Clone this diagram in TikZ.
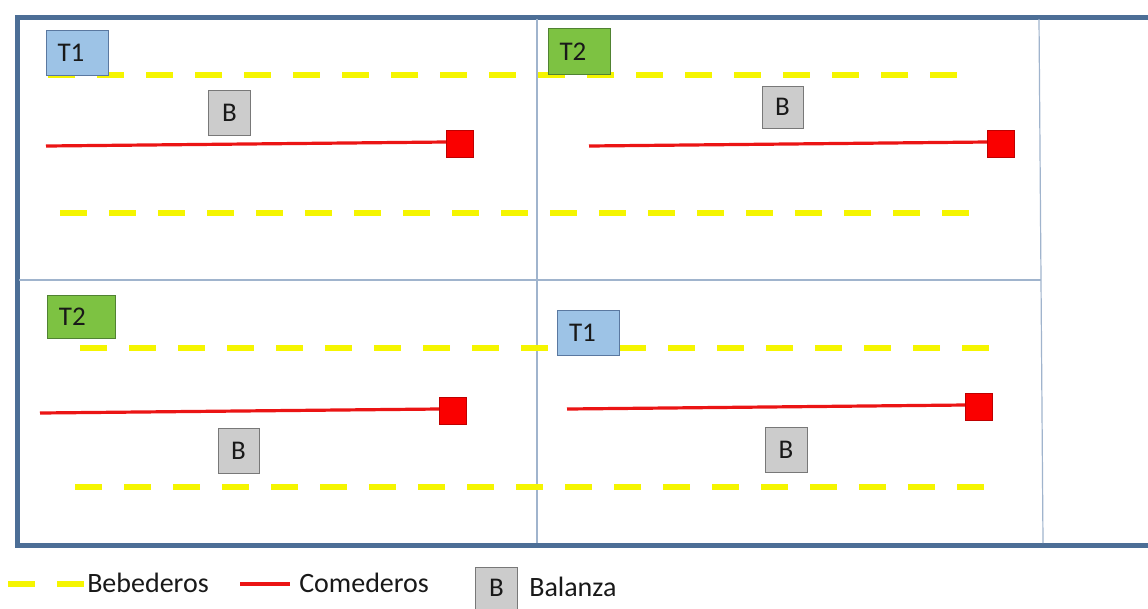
\documentclass[tikz,border=0pt]{standalone}
\usepackage{fontspec}
\setmainfont{Carlito}
\definecolor{framecol}{RGB}{76,110,150}
\definecolor{divcol}{RGB}{160,180,205}
\definecolor{tonefill}{RGB}{157,195,230}
\definecolor{toneline}{RGB}{90,120,160}
\definecolor{ttwofill}{RGB}{125,194,66}
\definecolor{ttwoline}{RGB}{80,130,50}
\definecolor{bfill}{RGB}{204,204,204}
\definecolor{bline}{RGB}{120,120,120}
\definecolor{waterc}{RGB}{245,245,0}
\definecolor{feedc}{RGB}{235,20,20}
\definecolor{feedsq}{RGB}{250,0,0}
\definecolor{feedsqline}{RGB}{190,0,0}
\begin{document}
\begin{tikzpicture}[x=0.75pt,y=-0.75pt,
  frameline/.style={draw=framecol,line width=3.75pt},
  divider/.style={draw=divcol,line width=0.9pt},
  boxlabel/.style={font=\fontsize{20.25}{22}\selectfont,inner sep=0pt,text=black!90},
  tonebox/.style={boxlabel,draw=toneline,fill=tonefill,line width=0.75pt,minimum width=46.5pt,minimum height=33.75pt},
  ttwobox/.style={boxlabel,draw=ttwoline,fill=ttwofill,line width=0.75pt,minimum width=46.5pt,minimum height=33.75pt},
  balbox/.style={boxlabel,draw=bline,fill=bfill,line width=0.75pt,minimum width=31.5pt,minimum height=33pt},
  water/.style={draw=waterc,line width=4.5pt,dash pattern=on 20.25pt off 16.5pt},
  feedline/.style={draw=feedc,line width=2.4pt},
  feeder/.style={draw=feedsqline,fill=feedsq,line width=0.5pt,minimum width=20.5pt,minimum height=20.5pt,inner sep=0pt},
  legtext/.style={font=\fontsize{21}{24}\selectfont,inner sep=0pt,anchor=west,text=black!90}
]
\useasboundingbox (0,0) rectangle (1148,608);
\fill[white] (0,0) rectangle (1148,608);
\begin{scope}
\clip (0,0) rectangle (1148,608);
\draw[frameline] (1160,17) -- (17,17) -- (17,545) -- (1160,545);
\end{scope}
\draw[divider] (537,19) -- (537,543);
\draw[divider] (1039,19) -- (1043,543);
\draw[divider] (19,280) -- (1041,280);

% waterers (bebederos)
\coordinate (w1a) at (48,75);  \coordinate (w1b) at (958,75);
\coordinate (w2a) at (60,213); \coordinate (w2b) at (970,213);
\coordinate (w3a) at (80,348); \coordinate (w3b) at (990,348);
\coordinate (w4a) at (75,487); \coordinate (w4b) at (985,487);
\draw[water] (w1a) -- (w1b);
\draw[water] (w2a) -- (w2b);
\draw[water] (w3a) -- (w3b);
\draw[water] (w4a) -- (w4b);

% feeders (comederos)
\node[feeder] (f1) at (460,144) {};
\node[feeder] (f2) at (1001,144) {};
\node[feeder] (f3) at (453,411) {};
\node[feeder] (f4) at (979,407) {};
\coordinate (c1) at (46,146);
\coordinate (c2) at (589,146);
\coordinate (c3) at (40,413);
\coordinate (c4) at (567,409);
\draw[feedline] (c1) -- ([yshift=1.5pt]f1.west);
\draw[feedline] (c2) -- ([yshift=1.5pt]f2.west);
\draw[feedline] (c3) -- ([yshift=1.5pt]f3.west);
\draw[feedline] (c4) -- ([yshift=1.5pt]f4.west);

% treatment labels
\node[tonebox] (t1a) at (77,53) {\hspace*{-9pt}T1};
\node[ttwobox,minimum height=35pt] (t2a) at (579,51.5) {\hspace*{-9pt}T2};
\node[ttwobox,minimum width=51pt,minimum height=32.25pt] (t2b) at (81,316.5) {\hspace*{-13pt}T2};
\node[tonebox] (t1b) at (588.5,332.5) {\hspace*{-9pt}T1};

% balances
\node[balbox,minimum height=33.75pt] (b1) at (229.5,112.5) {B};
\node[balbox,minimum width=30.75pt,minimum height=31.5pt] (b2) at (782.5,107) {B};
\node[balbox,minimum width=30.75pt,minimum height=33.75pt] (b3) at (238.5,450.5) {B};
\node[balbox,minimum height=33.75pt] (b4) at (786,449.5) {B};

% legend
\coordinate (lw1) at (8,584); \coordinate (lw2) at (86,584);
\draw[water] (lw1) -- (lw2);
\node[legtext] (lbeb) at (87,583) {Bebederos};
\coordinate (lf1) at (240,584); \coordinate (lf2) at (290,584);
\draw[feedline] (lf1) -- (lf2);
\node[legtext] (lcom) at (299,583) {Comederos};
\node[balbox,minimum width=31.5pt,minimum height=31.5pt] (lb) at (496.5,588) {B};
\node[legtext] (lbal) at (529,587) {Balanza};
\end{tikzpicture}
\end{document}
